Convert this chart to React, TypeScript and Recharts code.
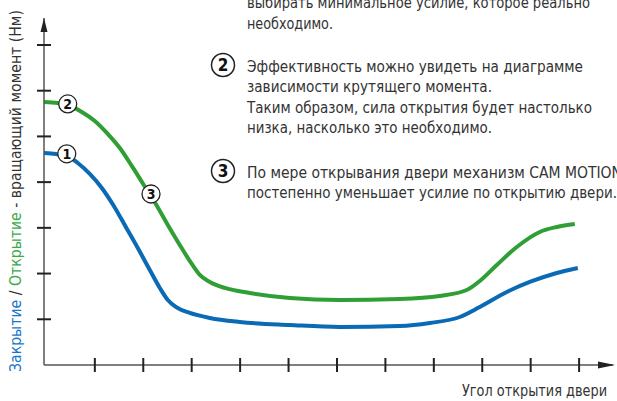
import { LineChart, Line, XAxis, YAxis, ReferenceDot } from 'recharts';

// door opening angle (axis units) vs torque
const closingX = [-0.05, 0.194, 0.421, 0.648, 0.896, 1.144, 1.392, 1.64, 1.887, 2.135, 2.342, 2.507, 2.672, 2.961, 3.374, 3.993, 5.026, 6.058, 7.297, 7.917, 8.536, 8.949, 9.506, 9.981, 10.539, 10.973];
const closingY = [4.638, 4.616, 4.572, 4.419, 4.179, 3.872, 3.478, 3.019, 2.56, 2.078, 1.685, 1.422, 1.269, 1.138, 1.028, 0.941, 0.875, 0.831, 0.853, 0.919, 1.05, 1.269, 1.597, 1.816, 2.013, 2.122];

const openingX = [-0.05, 0.235, 0.483, 0.731, 0.999, 1.268, 1.516, 1.763, 2.011, 2.259, 2.507, 2.754, 3.002, 3.167, 3.374, 3.683, 4.2, 5.026, 6.058, 7.297, 8.123, 8.68, 8.949, 9.3, 9.713, 10.188, 10.539, 10.911];
const openingY = [5.754, 5.732, 5.666, 5.535, 5.338, 5.054, 4.747, 4.354, 3.938, 3.522, 3.063, 2.625, 2.21, 1.969, 1.816, 1.685, 1.575, 1.466, 1.422, 1.444, 1.51, 1.641, 1.838, 2.188, 2.581, 2.91, 3.019, 3.085];

const xTicks = [1, 2, 3, 4, 5, 6, 7, 8, 9, 10, 11];
const yTicks = [1, 2, 3, 4, 5, 6, 7];

const markers = [
  { n: '1', x: 0.42, y: 4.62 },
  { n: '2', x: 0.44, y: 5.71 },
  { n: '3', x: 2.16, y: 3.74 },
];

const noteLines = [
  'выбирать минимальное усилие, которое реально',
  'необходимо.',
  'Эффективность можно увидеть на диаграмме',
  'зависимости крутящего момента.',
  'Таким образом, сила открытия будет настолько',
  'низка, насколько это необходимо.',
  'По мере открывания двери механизм CAM MOTION',
  'постепенно уменьшает усилие по открытию двери.',
];

const BLUE = '#0a6ab4';
const GREEN = '#2f9e35';
const TEXT = '#333';
const FONT = "'Liberation Sans Narrow', 'DejaVu Sans Condensed', Roboto, sans-serif";

const closingData = closingX.map((x, i) => ({ x, y: closingY[i] }));
const openingData = openingX.map((x, i) => ({ x, y: openingY[i] }));

// text block on the right: [baseline, full width]
const noteLayout = [
  [7.5, 343], [28.5, 86], [71.5, 336], [92, 245], [112.5, 345], [132.5, 245], [177.5, 375], [198, 370],
];

function YTick({ x, y }: any) {
  return <line x1={x - 7} x2={x + 7} y1={y} y2={y} stroke="#222" strokeWidth={2} />;
}

function XTick({ x, y }: any) {
  return <line x1={x} x2={x} y1={y - 7} y2={y + 7} stroke="#222" strokeWidth={2} />;
}

function Marker(n: string) {
  return ({ cx, cy }: any) => (
    <g>
      <circle cx={cx} cy={cy} r={9} fill="#fff" stroke="#222" strokeWidth={1.3} />
      <text x={cx} y={cy + 5} textAnchor="middle" fontFamily={FONT} fontSize={14} fontWeight="bold" fill="#111">
        {n}
      </text>
    </g>
  );
}

function UpArrow({ cx, cy }: any) {
  return <polygon points={`${cx - 3.5},${cy + 14} ${cx + 3.5},${cy + 14} ${cx},${cy}`} fill="#222" />;
}

function RightArrow({ cx, cy }: any) {
  return <polygon points={`${cx - 15},${cy - 3.5} ${cx - 15},${cy + 3.5} ${cx + 2},${cy}`} fill="#222" />;
}

function BigNum({ cx, cy, n }: { cx: number; cy: number; n: string }) {
  return (
    <g>
      <circle cx={cx} cy={cy} r={11.5} fill="#fff" stroke="#222" strokeWidth={1.5} />
      <text x={cx} y={cy + 6} textAnchor="middle" fontFamily={FONT} fontSize={17} fontWeight="bold" fill="#111">
        {n}
      </text>
    </g>
  );
}

export default function App() {
  return (
    <div style={{ position: 'absolute', left: 0, top: 0, width: 617, height: 401, background: '#fff', overflow: 'hidden' }}>
      <LineChart width={617} height={401} data={closingData} margin={{ top: 18, right: 4, bottom: 6, left: 4 }}>
        <XAxis
          type="number"
          dataKey="x"
          domain={[-0.05, 11.7]}
          ticks={xTicks}
          allowDataOverflow
          height={30}
          tickSize={0}
          tickMargin={0}
          tickLine={false}
          axisLine={{ stroke: '#555', strokeWidth: 1.5 }}
          tick={<XTick />}
        />
        <YAxis
          type="number"
          domain={[0, 7.59]}
          ticks={yTicks}
          allowDataOverflow
          width={40}
          tickSize={0}
          tickMargin={0}
          tickLine={false}
          axisLine={{ stroke: '#555', strokeWidth: 1.5 }}
          tick={<YTick />}
        />
        <Line data={closingData} dataKey="y" type="monotone" stroke={BLUE} strokeWidth={4} dot={false} isAnimationActive={false} />
        <Line data={openingData} dataKey="y" type="monotone" stroke={GREEN} strokeWidth={4} dot={false} isAnimationActive={false} />
        <ReferenceDot x={-0.05} y={7.59} r={0} shape={<UpArrow />} />
        <ReferenceDot x={11.7} y={0} r={0} shape={<RightArrow />} />
        {markers.map((m) => (
          <ReferenceDot key={m.n} x={m.x} y={m.y} r={9} shape={Marker(m.n)} />
        ))}
      </LineChart>
      <svg width={617} height={401} style={{ position: 'absolute', left: 0, top: 0, pointerEvents: 'none' }}>
        <text
          transform="translate(21,372) rotate(-90)"
          fontFamily={FONT}
          fontSize={16}
          textLength={362}
          lengthAdjust="spacingAndGlyphs"
          fill={TEXT}
        >
          <tspan fill="#1677c8">Закрытие</tspan>
          <tspan> / </tspan>
          <tspan fill="#3aaa4a">Открытие</tspan>
          <tspan> - вращающий момент (Нм)</tspan>
        </text>
        {noteLines.map((line, i) => (
          <text
            key={i}
            x={247}
            y={noteLayout[i][0]}
            fontFamily={FONT}
            fontSize={16.5}
            textLength={noteLayout[i][1]}
            lengthAdjust="spacingAndGlyphs"
            fill={TEXT}
          >
            {line}
          </text>
        ))}
        <BigNum cx={223} cy={65} n="2" />
        <BigNum cx={223} cy={171} n="3" />
        <text x={462} y={396} fontFamily={FONT} fontSize={16} textLength={145} lengthAdjust="spacingAndGlyphs" fill={TEXT}>
          Угол открытия двери
        </text>
      </svg>
    </div>
  );
}
